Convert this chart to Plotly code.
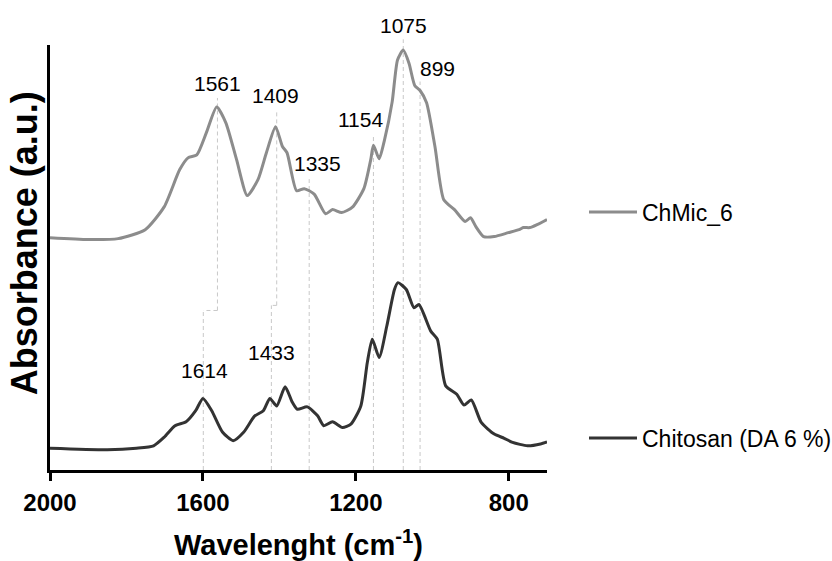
import plotly.graph_objects as go

# ---------------- data ----------------
wn_chmic = [2000, 1900, 1822, 1751, 1701, 1661, 1639, 1616, 1591, 1564, 1540, 1512,
            1484, 1456, 1434, 1410, 1392, 1380, 1355, 1335, 1309, 1279, 1261, 1237,
            1209, 1179, 1161, 1154, 1139, 1125, 1105, 1091, 1076, 1061, 1046, 1032,
            1015, 993, 970, 942, 914, 900, 886, 866, 838, 801, 773, 762, 745, 726, 700]
abs_chmic = [0.776, 0.770, 0.773, 0.803, 0.880, 1.003, 1.043, 1.053, 1.127, 1.213, 1.160, 1.037,
             0.917, 0.970, 1.060, 1.147, 1.081, 1.060, 0.933, 0.940, 0.922, 0.856, 0.870, 0.860,
             0.878, 0.940, 1.037, 1.085, 1.040, 1.103, 1.230, 1.370, 1.403, 1.359, 1.285, 1.268,
             1.227, 1.080, 0.903, 0.870, 0.830, 0.843, 0.813, 0.780, 0.780, 0.793, 0.803, 0.810,
             0.810, 0.820, 0.837]

wn_chitosan = [2000, 1850, 1774, 1729, 1701, 1673, 1644, 1619, 1600, 1577, 1549, 1521,
               1493, 1465, 1442, 1425, 1407, 1385, 1366, 1353, 1327, 1300, 1284, 1261,
               1235, 1213, 1187, 1170, 1157, 1139, 1119, 1099, 1090, 1068, 1048, 1035,
               1004, 987, 965, 936, 917, 898, 872, 838, 812, 790, 751, 717, 700]
abs_chitosan = [0.073, 0.068, 0.073, 0.081, 0.110, 0.148, 0.161, 0.198, 0.239, 0.198, 0.127, 0.098,
                0.127, 0.180, 0.198, 0.239, 0.214, 0.278, 0.226, 0.203, 0.211, 0.181, 0.148, 0.161,
                0.142, 0.153, 0.214, 0.359, 0.437, 0.376, 0.481, 0.603, 0.626, 0.603, 0.542, 0.553,
                0.464, 0.437, 0.281, 0.253, 0.217, 0.234, 0.159, 0.120, 0.106, 0.092, 0.081, 0.087,
                0.094]

x_ticks = [2000, 1600, 1200, 800]

# peak labels (wavenumber position, absorbance height)
peak_labels = ["1561", "1409", "1335", "1154", "1075", "899", "1614", "1433"]
label_x = [1563, 1409, 1300, 1187, 1075, 987, 1597, 1421]
label_y = [1.29, 1.252, 1.025, 1.171, 1.484, 1.341, 0.334, 0.393]

# dashed guide lines (wavenumber, top, bottom in absorbance units)
guide_x = [1562, 1407, 1322, 1154, 1076, 1032, 1599, 1421]
guide_top = [1.243, 1.203, 0.972, 1.114, 1.439, 1.298, 0.533, 0.550]
guide_bottom = [0.533, 0.550, 0.0, 0.0, 0.0, 0.0, 0.0, 0.0]
# horizontal connectors between upper and lower guides
conn_x0 = [1562, 1407]
conn_x1 = [1599, 1421]
conn_y = [0.533, 0.550]

Y_MIN, Y_MAX = 0.0, 1.42
X_RANGE = [2000, 700]

FONT = "Liberation Sans, Arial, Helvetica, sans-serif"

fig = go.Figure()

fig.add_trace(go.Scatter(
    x=wn_chmic, y=abs_chmic, mode="lines", name="ChMic_6",
    line=dict(color="#8c8c8c", width=3, shape="spline", smoothing=0.6),
    legend="legend", showlegend=True,
))
fig.add_trace(go.Scatter(
    x=wn_chitosan, y=abs_chitosan, mode="lines", name="Chitosan (DA 6 %)",
    line=dict(color="#333333", width=3, shape="spline", smoothing=0.6),
    legend="legend2", showlegend=True,
))


def to_paper(v):
    return (v - Y_MIN) / (Y_MAX - Y_MIN)


shapes = []
dash_style = dict(color="#c8c8c8", width=1, dash="4px,3px")
for gx, gt, gb in zip(guide_x, guide_top, guide_bottom):
    shapes.append(dict(type="line", xref="x", yref="paper", x0=gx, x1=gx,
                       y0=to_paper(gb), y1=to_paper(gt), line=dash_style, layer="below"))
for a, b, yy in zip(conn_x0, conn_x1, conn_y):
    shapes.append(dict(type="line", xref="x", yref="paper", x0=a, x1=b,
                       y0=to_paper(yy), y1=to_paper(yy), line=dash_style, layer="below"))

annotations = []
for t, lx, ly in zip(peak_labels, label_x, label_y):
    annotations.append(dict(text=t, x=lx, y=to_paper(ly), xref="x", yref="paper",
                            showarrow=False, xanchor="center", yanchor="middle",
                            font=dict(family=FONT, size=21, color="#000000")))

# y-axis title
annotations.append(dict(text="<b>Absorbance (a.u.)</b>", x=-0.052, y=0.534, xref="paper",
                        yref="paper", showarrow=False, textangle=-90,
                        xanchor="center", yanchor="middle",
                        font=dict(family=FONT, size=36, color="#000000")))

LEG_X = (584 - 50) / 497

fig.update_layout(
    width=832, height=561,
    margin=dict(l=50, r=285, t=45, b=91, autoexpand=False),
    paper_bgcolor="white",
    plot_bgcolor="rgba(0,0,0,0)",
    font=dict(family=FONT, color="#000000"),
    showlegend=True,
    shapes=shapes,
    annotations=annotations,
    legend=dict(x=LEG_X, xanchor="left", y=(470 - 212) / 425, yanchor="middle",
                font=dict(family=FONT, size=23, color="#000000"), itemwidth=48,
                bgcolor="rgba(0,0,0,0)", visible=True),
    legend2=dict(x=LEG_X, xanchor="left", y=(470 - 438) / 425, yanchor="middle",
                 font=dict(family=FONT, size=23, color="#000000"), itemwidth=48,
                 bgcolor="rgba(0,0,0,0)", visible=True),
    xaxis=dict(
        range=X_RANGE, tickvals=x_ticks, ticktext=[str(v) for v in x_ticks],
        showgrid=False, zeroline=False, showline=True, linecolor="#000000", linewidth=3,
        ticks="outside", ticklen=8, tickwidth=3, tickcolor="#000000",
        ticklabelstandoff=1,
        tickfont=dict(family=FONT, size=24, color="#000000", weight="bold"),
        title=dict(text="Wavelenght (cm<sup>-1</sup>)", standoff=23,
                   font=dict(family=FONT, size=29, color="#000000", weight="bold")),
    ),
    yaxis=dict(
        range=[Y_MIN, Y_MAX], showgrid=False, zeroline=False, showline=True,
        linecolor="#000000", linewidth=3, ticks="", showticklabels=False,
    ),
)

fig.write_html("out.html")
